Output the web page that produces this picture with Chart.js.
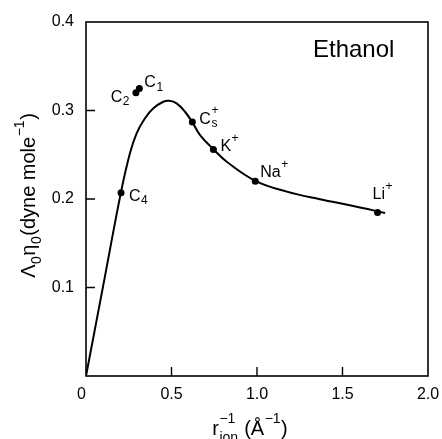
<!DOCTYPE html>
<html>
<head>
<meta charset="utf-8">
<script src="https://cdn.jsdelivr.net/npm/chart.js@4.4.0/dist/chart.umd.min.js"></script>
<style>
  body { margin: 0; background: #fff; }
  canvas { display: block; }
</style>
</head>
<body>
<canvas id="chart" width="442" height="439"></canvas>
<script>
// smooth curve
const curveX = [0, 0.100, 0.205, 0.257, 0.296, 0.345, 0.394, 0.452, 0.487, 0.530, 0.579, 0.622, 0.667, 0.745, 0.823, 0.990, 1.174, 1.368, 1.563, 1.749];
const curveY = [0, 0.1015, 0.208, 0.2516, 0.2742, 0.2912, 0.3025, 0.3099, 0.311, 0.3081, 0.2986, 0.2867, 0.2723, 0.2562, 0.2421, 0.2205, 0.2083, 0.1997, 0.1921, 0.1842];

// measured ions
const pointNames = ["C_{1}", "C_{2}", "C_{4}", "C^{+}_{s}", "K^{+}", "Na^{+}", "Li^{+}"];
const pointX = [0.312, 0.292, 0.205, 0.622, 0.745, 0.990, 1.705];
const pointY = [0.325, 0.320, 0.207, 0.287, 0.256, 0.220, 0.1848];

const xTickLabels = ["0\u2007", "0.5", "1.0", "1.5", "2.0"];
const yTickLabels = ["", "0.1", "0.2", "0.3", "0.4"];

// label placement: [dx, dy, align] relative to the dot
const labelOffsets = [[5, -1, "left"], [-6, 9, "right"], [8, 8, "left"], [7, 2, "left"], [7, 2, "left"], [5, -4, "left"], [-5, -13, "left"]];

const FAMILY = "'Liberation Sans', Arial, sans-serif";

function parseRich(s) {
    const out = [];
    const re = /_\{([^}]*)\}(?:\^\{([^}]*)\})?|\^\{([^}]*)\}(?:_\{([^}]*)\})?|([^_^]+)/g;
    let m;
    while ((m = re.exec(s))) {
        if (m[5] !== undefined) out.push({ base: m[5] });
        else if (m[1] !== undefined) out.push({ sub: m[1], sup: m[2] });
        else out.push({ sup: m[3], sub: m[4] });
    }
    return out;
}

function drawRich(ctx, s, x, y, size, align, drop, rise) {
    const big = size + "px " + FAMILY;
    const sm = Math.round(size * 0.72) + "px " + FAMILY;
    const parts = parseRich(s);
    const widths = parts.map(p => {
        if (p.base) { ctx.font = big; return ctx.measureText(p.base).width; }
        ctx.font = sm;
        const a = p.sub ? ctx.measureText(p.sub).width : 0;
        const b = p.sup ? ctx.measureText(p.sup).width : 0;
        return Math.max(a, b) + 1;
    });
    const total = widths.reduce((a, b) => a + b, 0);
    let cx = align === "right" ? x - total : align === "center" ? x - total / 2 : x;
    ctx.textAlign = "left";
    ctx.textBaseline = "alphabetic";
    parts.forEach((p, i) => {
        if (p.base) {
            ctx.font = big;
            ctx.fillText(p.base, cx, y);
        } else {
            ctx.font = sm;
            if (p.sub) ctx.fillText(p.sub, cx + 0.5, y + size * drop);
            if (p.sup) ctx.fillText(p.sup, cx + 0.5, y - size * rise);
        }
        cx += widths[i];
    });
}

const decorations = {
    id: "decorations",
    afterDraw(chart) {
        const ctx = chart.ctx;
        const area = chart.chartArea;
        const xs = chart.scales.x, ys = chart.scales.y;
        ctx.save();
        ctx.strokeStyle = "#000";
        ctx.fillStyle = "#000";

        // frame
        ctx.lineWidth = 1.6;
        ctx.strokeRect(area.left, area.top, area.right - area.left, area.bottom - area.top);

        // inward tick marks
        ctx.lineWidth = 1.4;
        ctx.beginPath();
        xs.ticks.forEach(t => {
            if (t.value <= xs.min || t.value >= xs.max) return;
            const px = xs.getPixelForValue(t.value);
            ctx.moveTo(px, area.bottom);
            ctx.lineTo(px, area.bottom - 9);
        });
        ys.ticks.forEach(t => {
            if (t.value <= ys.min || t.value >= ys.max) return;
            const py = ys.getPixelForValue(t.value);
            ctx.moveTo(area.left, py);
            ctx.lineTo(area.left + 9, py);
        });
        ctx.stroke();

        // point labels
        pointNames.forEach((name, i) => {
            const px = xs.getPixelForValue(pointX[i]);
            const py = ys.getPixelForValue(pointY[i]);
            const [dx, dy, align] = labelOffsets[i];
            drawRich(ctx, name, px + dx, py + dy, 16, align, 0.2, 0.6);
        });

        // panel title
        ctx.font = "24px " + FAMILY;
        ctx.textAlign = "left";
        ctx.textBaseline = "alphabetic";
        ctx.fillText("Ethanol", area.right - 115, area.top + 35);

        // axis titles
        drawRich(ctx, "r_{ion}^{\u22121} (\u00C5^{\u22121})", (area.left + area.right) / 2 - 7, chart.height - 4, 20, "center", 0.35, 0.6);
        ctx.translate(35, (area.top + area.bottom) / 2 - 3.5);
        ctx.rotate(-Math.PI / 2);
        drawRich(ctx, "\u039B_{0}\u03B7_{0}(dyne mole^{\u22121})", 0, 0, 20, "center", 0.3, 0.55);
        ctx.restore();
    }
};

document.addEventListener("DOMContentLoaded", function () {
    const ctx = document.getElementById("chart").getContext("2d");

    const config = {
        type: "scatter",
        data: {
            datasets: [
                {
                    label: "curve",
                    data: curveX.map((x, i) => ({ x: x, y: curveY[i] })),
                    showLine: true,
                    borderColor: "#000",
                    borderWidth: 2,
                    pointRadius: 0,
                    tension: 0.4,
                    fill: false,
                },
                {
                    label: "ions",
                    data: pointX.map((x, i) => ({ x: x, y: pointY[i] })),
                    showLine: false,
                    pointRadius: 3.5,
                    pointBackgroundColor: "#000",
                    pointBorderColor: "#000",
                    pointBorderWidth: 0,
                },
            ],
        },
        options: {
            responsive: false,
            animation: false,
            layout: { padding: { left: 0, top: 22, right: 14, bottom: 0 } },
            plugins: {
                legend: { display: false },
                tooltip: { enabled: false },
            },
            scales: {
                x: {
                    type: "linear",
                    min: 0,
                    max: 2,
                    grid: { display: false },
                    border: { display: false },
                    ticks: {
                        stepSize: 0.5,
                        padding: 1,
                        color: "#000",
                        font: { family: FAMILY, size: 16 },
                        maxRotation: 0,
                        callback: (v, i) => xTickLabels[i],
                    },
                    afterFit: s => { s.height = 63; },
                },
                y: {
                    min: 0,
                    max: 0.4,
                    grid: { display: false },
                    border: { display: false },
                    ticks: {
                        stepSize: 0.1,
                        padding: 4,
                        color: "#000",
                        font: { family: FAMILY, size: 16 },
                        callback: (v, i) => yTickLabels[i],
                    },
                    afterFit: s => { s.width = 86; },
                },
            },
        },
        plugins: [decorations],
    };

    new Chart(ctx, config);
});
</script>
</body>
</html>
